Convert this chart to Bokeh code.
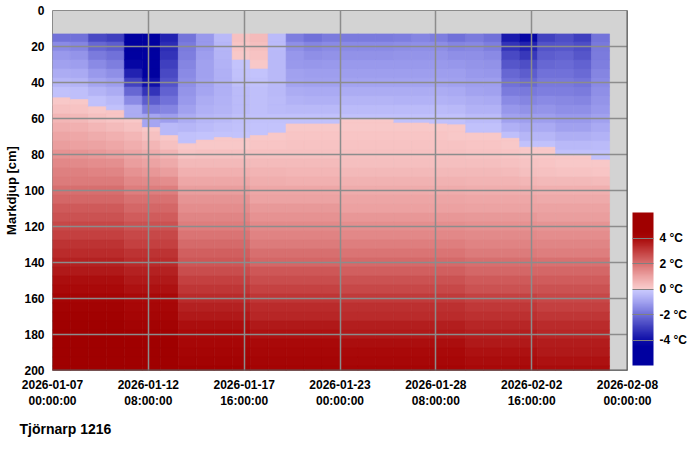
import numpy as np
from bokeh.plotting import figure
from bokeh.models import (Range1d, FixedTicker, LinearColorMapper, ColorBar, Title,
                          ColumnDataSource, Span)
from bokeh.embed import file_html
from bokeh.resources import INLINE

# ---------------- data ----------------
start = "2026-01-07T00:00"
dates = ["2026-01-07", "2026-01-08", "2026-01-09", "2026-01-10", "2026-01-11",
         "2026-01-12", "2026-01-13", "2026-01-14", "2026-01-15", "2026-01-16",
         "2026-01-17", "2026-01-18", "2026-01-19", "2026-01-20", "2026-01-21",
         "2026-01-22", "2026-01-23", "2026-01-24", "2026-01-25", "2026-01-26",
         "2026-01-27", "2026-01-28", "2026-01-29", "2026-01-30", "2026-01-31",
         "2026-02-01", "2026-02-02", "2026-02-03", "2026-02-04", "2026-02-05",
         "2026-02-06"]

# measuring depths (cm), top of the uppermost cell
depths = [15, 20, 25, 30, 35, 40, 45, 50, 55, 60, 65, 70, 75, 80, 85, 90, 95,
          100, 105, 110, 115, 120, 125, 130, 135, 140, 145, 150, 155, 160,
          165, 170, 175, 180, 185, 190, 195, 200]
top_depth = 13

# frost depth (0 degC boundary) per day, cm
frost_depth = [48.5, 49.5, 53.5, 55.5, 60, 65, 69.5, 74, 72, 70.5, 71, 69.5, 68,
               63, 63, 63, 60.5, 60.5, 60.5, 62.5, 62.5, 63, 63.5, 68, 68, 71,
               76, 76, 80.5, 80.5, 83]

# deep part of the profiles (100..200 cm), degC
deep_a = [2.0, 2.2, 2.4, 2.55, 2.75, 2.95, 3.15, 3.3, 3.5, 3.7, 3.85, 4.0, 4.2, 4.3, 4.4, 4.5, 4.6, 4.7, 4.8, 4.9, 5.0]
deep_b = [1.75, 1.95, 2.15, 2.35, 2.55, 2.75, 2.95, 3.15, 3.35, 3.5, 3.65, 3.8, 3.95, 4.05, 4.2, 4.3, 4.45, 4.55, 4.65, 4.75, 4.85]
deep_c = [1.1, 1.25, 1.4, 1.55, 1.7, 1.9, 2.1, 2.3, 2.5, 2.7, 2.9, 3.1, 3.3, 3.5, 3.65, 3.85, 4.0, 4.1, 4.2, 4.3, 4.4]
deep_d = [0.85, 1.0, 1.15, 1.3, 1.45, 1.6, 1.8, 2.0, 2.2, 2.45, 2.65, 2.85, 3.1, 3.3, 3.45, 3.65, 3.8, 3.95, 4.05, 4.15, 4.25]
deep_e = [0.75, 0.9, 1.05, 1.2, 1.35, 1.5, 1.7, 1.9, 2.1, 2.3, 2.55, 2.75, 3.0, 3.2, 3.35, 3.55, 3.7, 3.85, 3.95, 4.05, 4.15]
deep_f = [0.7, 0.85, 1.0, 1.15, 1.3, 1.45, 1.6, 1.8, 2.0, 2.2, 2.4, 2.6, 2.85, 3.05, 3.2, 3.4, 3.55, 3.7, 3.8, 3.9, 4.0]
deep_g = [0.65, 0.8, 0.95, 1.1, 1.25, 1.4, 1.55, 1.75, 1.95, 2.15, 2.35, 2.55, 2.75, 2.95, 3.1, 3.3, 3.45, 3.6, 3.7, 3.8, 3.9]

# upper part of the profiles (15..95 cm), degC, one list per day
p0107 = [-2.0, -1.5, -1.2, -1.0, -0.8, -0.55, -0.3, 0.1, 0.3, 0.5, 0.7, 0.9, 1.1, 1.3, 1.5, 1.65, 1.8] + deep_a
p0108 = [-2.0, -1.6, -1.3, -1.1, -0.85, -0.6, -0.35, 0.1, 0.25, 0.45, 0.65, 0.85, 1.05, 1.25, 1.45, 1.65, 1.8] + deep_a
p0109 = [-2.8, -2.2, -1.8, -1.5, -1.2, -0.9, -0.6, -0.3, 0.1, 0.3, 0.5, 0.75, 0.95, 1.15, 1.4, 1.6, 1.8] + deep_a
p0110 = [-3.0, -2.4, -2.0, -1.7, -1.4, -1.1, -0.8, -0.5, -0.25, 0.2, 0.4, 0.65, 0.85, 1.1, 1.35, 1.55, 1.8] + deep_a
p0111 = [-5.0, -4.9, -4.7, -4.3, -3.6, -2.9, -2.2, -1.5, -0.8, 0.1, 0.3, 0.5, 0.7, 0.9, 1.1, 1.3, 1.5] + deep_b
p0112 = [-5.2, -5.0, -4.9, -4.7, -4.5, -4.0, -3.2, -2.4, -1.7, -0.9, 0.1, 0.3, 0.5, 0.75, 1.0, 1.2, 1.45] + deep_b
p0113 = [-3.6, -3.4, -3.2, -3.0, -2.8, -2.6, -2.3, -2.0, -1.6, -1.1, -0.5, 0.1, 0.3, 0.55, 0.8, 1.1, 1.4] + deep_b
p0114 = [-1.9, -1.8, -1.7, -1.6, -1.5, -1.4, -1.3, -1.15, -1.0, -0.8, -0.55, -0.3, 0.1, 0.25, 0.45, 0.65, 0.85] + deep_c
p0115 = [-1.2, -1.15, -1.1, -1.05, -1.0, -0.95, -0.9, -0.8, -0.7, -0.55, -0.4, -0.2, 0.15, 0.3, 0.45, 0.65, 0.85] + deep_c
p0116 = [-0.5, -0.55, -0.6, -0.65, -0.7, -0.7, -0.7, -0.65, -0.6, -0.5, -0.35, -0.2, 0.15, 0.3, 0.45, 0.65, 0.85] + deep_c
p0117 = [0.3, 0.2, 0.1, -0.2, -0.3, -0.35, -0.4, -0.4, -0.4, -0.35, -0.3, -0.2, 0.15, 0.3, 0.45, 0.65, 0.85] + deep_c
p0118 = [0.4, 0.35, 0.25, 0.1, -0.2, -0.3, -0.35, -0.35, -0.35, -0.3, -0.2, 0.1, 0.2, 0.3, 0.4, 0.55, 0.7] + deep_d
p0119 = [-0.4, -0.45, -0.5, -0.5, -0.5, -0.5, -0.5, -0.45, -0.4, -0.3, -0.2, 0.1, 0.2, 0.3, 0.4, 0.55, 0.7] + deep_d
p0120 = [-1.7, -1.4, -1.25, -1.15, -1.05, -0.95, -0.8, -0.65, -0.5, -0.3, 0.1, 0.2, 0.25, 0.3, 0.4, 0.5, 0.65] + deep_d
p0121 = [-2.0, -1.6, -1.4, -1.25, -1.1, -1.0, -0.85, -0.7, -0.5, -0.3, 0.1, 0.2, 0.25, 0.3, 0.4, 0.5, 0.65] + deep_d
p0122 = [-1.8, -1.5, -1.35, -1.2, -1.1, -1.0, -0.85, -0.7, -0.5, -0.3, 0.1, 0.2, 0.25, 0.3, 0.4, 0.5, 0.65] + deep_d
p0123 = [-1.8, -1.5, -1.35, -1.2, -1.1, -0.95, -0.8, -0.6, -0.45, -0.25, 0.1, 0.2, 0.25, 0.3, 0.35, 0.45, 0.6] + deep_e
p0124 = [-1.8, -1.5, -1.35, -1.2, -1.1, -0.95, -0.8, -0.6, -0.45, -0.25, 0.1, 0.2, 0.25, 0.3, 0.35, 0.45, 0.6] + deep_e
p0125 = [-1.75, -1.5, -1.35, -1.2, -1.1, -0.95, -0.8, -0.6, -0.45, -0.25, 0.1, 0.2, 0.25, 0.3, 0.35, 0.45, 0.6] + deep_e
p0126 = [-1.7, -1.45, -1.3, -1.2, -1.1, -0.95, -0.8, -0.65, -0.45, -0.25, 0.1, 0.2, 0.25, 0.3, 0.35, 0.45, 0.6] + deep_e
p0127 = [-1.6, -1.4, -1.3, -1.2, -1.1, -0.95, -0.8, -0.65, -0.45, -0.25, 0.1, 0.2, 0.25, 0.3, 0.35, 0.45, 0.6] + deep_e
p0128 = [-1.7, -1.45, -1.3, -1.2, -1.1, -0.95, -0.8, -0.65, -0.45, -0.25, 0.1, 0.2, 0.25, 0.3, 0.35, 0.45, 0.6] + deep_e
p0129 = [-2.0, -1.6, -1.4, -1.25, -1.1, -1.0, -0.85, -0.7, -0.5, -0.3, 0.1, 0.15, 0.25, 0.3, 0.35, 0.45, 0.6] + deep_e
p0130 = [-1.8, -1.55, -1.4, -1.3, -1.2, -1.1, -0.95, -0.8, -0.65, -0.45, -0.25, 0.1, 0.2, 0.25, 0.35, 0.45, 0.55] + deep_f
p0131 = [-2.0, -1.7, -1.5, -1.35, -1.25, -1.1, -1.0, -0.85, -0.65, -0.45, -0.25, 0.1, 0.2, 0.25, 0.35, 0.45, 0.55] + deep_f
p0201 = [-3.8, -3.2, -2.8, -2.5, -2.2, -2.0, -1.75, -1.5, -1.25, -1.0, -0.7, -0.35, 0.1, 0.2, 0.3, 0.4, 0.55] + deep_f
p0202 = [-4.3, -3.6, -3.1, -2.7, -2.4, -2.1, -1.85, -1.6, -1.35, -1.1, -0.85, -0.55, -0.25, 0.1, 0.25, 0.35, 0.5] + deep_f
p0203 = [-2.9, -2.6, -2.4, -2.2, -2.0, -1.85, -1.7, -1.5, -1.3, -1.1, -0.85, -0.55, -0.25, 0.1, 0.2, 0.3, 0.45] + deep_g
p0204 = [-2.7, -2.5, -2.3, -2.15, -2.0, -1.85, -1.7, -1.55, -1.4, -1.2, -1.0, -0.75, -0.5, -0.25, 0.1, 0.25, 0.45] + deep_g
p0205 = [-3.0, -2.7, -2.5, -2.3, -2.1, -1.95, -1.8, -1.6, -1.4, -1.2, -1.0, -0.75, -0.5, -0.25, 0.1, 0.25, 0.45] + deep_g
p0206 = [-1.9, -1.85, -1.8, -1.7, -1.6, -1.5, -1.4, -1.3, -1.15, -1.0, -0.85, -0.65, -0.45, -0.25, 0.1, 0.2, 0.4] + deep_g

profiles = [p0107, p0108, p0109, p0110, p0111, p0112, p0113, p0114, p0115, p0116,
            p0117, p0118, p0119, p0120, p0121, p0122, p0123, p0124, p0125, p0126,
            p0127, p0128, p0129, p0130, p0131, p0201, p0202, p0203, p0204, p0205,
            p0206]

tick_times = ["2026-01-07T00:00", "2026-01-12T08:00", "2026-01-17T16:00",
              "2026-01-23T00:00", "2026-01-28T08:00", "2026-02-02T16:00",
              "2026-02-08T00:00"]
tick_labels = ["2026-01-07\n00:00:00", "2026-01-12\n08:00:00", "2026-01-17\n16:00:00",
               "2026-01-23\n00:00:00", "2026-01-28\n08:00:00", "2026-02-02\n16:00:00",
               "2026-02-08\n00:00:00"]
depth_ticks = [0, 20, 40, 60, 80, 100, 120, 140, 160, 180, 200]
cbar_ticks = [-4, -2, 0, 2, 4]
cbar_labels = ["-4 °C", "-2 °C", "0 °C", "2 °C", "4 °C"]
station = "Tjörnarp 1216"
y_title = "Markdjup [cm]"

# ---------------- colours (style) ----------------
pos_stops = [(0, (250, 205, 205)), (1, (236, 162, 162)), (2, (216, 112, 112)),
             (3, (194, 60, 60)), (4, (168, 8, 8)), (4.5, (160, 0, 0)), (6, (160, 0, 0))]
neg_stops = [(-6, (0, 0, 160)), (-4.5, (0, 0, 160)), (-4, (14, 14, 168)),
             (-3, (62, 62, 190)), (-2, (112, 112, 216)), (-1, (162, 162, 240)),
             (0, (205, 205, 255))]


def stop_color(stops, t):
    xs = [s[0] for s in stops]
    rgb = [int(round(np.interp(t, xs, [s[1][k] for s in stops]))) for k in range(3)]
    return "#%02x%02x%02x" % tuple(rgb)


nbins = 240
palette = []
for k in range(nbins):
    tc = -6 + (k + 0.5) * 12.0 / nbins
    palette.append(stop_color(neg_stops if tc < 0 else pos_stops, tc))
mapper = LinearColorMapper(palette=palette, low=-6, high=6)

# ---------------- cells ----------------
t0 = np.datetime64(start)


def hours(s):
    return float((np.datetime64(s) - t0) / np.timedelta64(1, "h"))


edges = [top_depth] + [(depths[i] + depths[i + 1]) / 2 for i in range(len(depths) - 1)] + [depths[-1]]
L, R, T, B, V = [], [], [], [], []
for j, d in enumerate(dates):
    x0 = hours(d)
    x1 = x0 + 24
    F = frost_depth[j]
    prof = profiles[j]
    for i in range(len(depths)):
        a, b = edges[i], edges[i + 1]
        if a < F < b:
            up = prof[i] if depths[i] < F else prof[i - 1]
            lo = prof[i] if depths[i] >= F else prof[i + 1]
            parts = [(a, F, up), (F, b, lo)]
        else:
            parts = [(a, b, prof[i])]
        for (ta, tb, v) in parts:
            L.append(x0); R.append(x1); T.append(ta); B.append(tb); V.append(v)

src = ColumnDataSource(dict(left=L, right=R, top=T, bottom=B, t=V))

FONT = "Liberation Sans"
p = figure(width=700, height=463, output_backend="svg", toolbar_location=None,
           x_range=Range1d(hours(tick_times[0]), hours(tick_times[-1])),
           y_range=Range1d(200, 0),
           min_border_left=52, min_border_right=73, min_border_top=10,
           min_border_bottom=93)
p.background_fill_color = "#d3d3d3"
p.border_fill_color = "white"
p.outline_line_color = "#8a8a8a"
p.outline_line_width = 1

p.quad(left="left", right="right", top="top", bottom="bottom", source=src,
       fill_color={"field": "t", "transform": mapper},
       line_color={"field": "t", "transform": mapper}, line_width=0.6)

# axes
p.xaxis.ticker = FixedTicker(ticks=[hours(t) for t in tick_times])
p.xaxis.major_label_overrides = {hours(t): lab for t, lab in zip(tick_times, tick_labels)}
p.yaxis.ticker = FixedTicker(ticks=depth_ticks)
for ax in (p.xaxis[0], p.yaxis[0]):
    ax.axis_line_color = None
    ax.major_tick_line_color = None
    ax.minor_tick_line_color = None
    ax.major_tick_out = 0
    ax.major_tick_in = 0
    ax.major_label_text_font = FONT
    ax.major_label_text_font_style = "bold"
    ax.major_label_text_font_size = "12px"
    ax.major_label_text_color = "black"
p.xaxis.major_label_standoff = 7
p.yaxis.major_label_standoff = 8
p.yaxis.axis_label = y_title
p.yaxis.axis_label_text_font = FONT
p.yaxis.axis_label_text_font_style = "bold"
p.yaxis.axis_label_text_font_size = "13px"
p.yaxis.axis_label_text_color = "black"
p.yaxis.axis_label_standoff = 2

p.grid.grid_line_color = "#8c8c8c"
p.grid.grid_line_width = 1.5
p.grid.level = "overlay"

p.add_layout(Span(location=hours(tick_times[-1]), dimension="height",
                  line_color="#5a5a5a", line_width=2, level="overlay"))
p.add_layout(Span(location=200, dimension="width",
                  line_color="#5a5a5a", line_width=2, level="overlay"))

cbar = ColorBar(color_mapper=mapper, ticker=FixedTicker(ticks=cbar_ticks),
                major_label_overrides={t: lab for t, lab in zip(cbar_ticks, cbar_labels)},
                width=21, height=153, location="bottom_left", padding=5, margin=0,
                major_label_text_font=FONT, major_label_text_font_style="bold",
                major_label_text_font_size="12px", major_label_text_color="black",
                major_tick_line_color="#808080", major_tick_in=21, major_tick_out=0,
                minor_tick_line_color=None, bar_line_color=None,
                border_line_color=None, background_fill_color=None, label_standoff=6)
p.add_layout(cbar, "right")

p.add_layout(Title(text=station, align="left", offset=-33, standoff=14,
                   text_font=FONT, text_font_style="bold", text_font_size="14px",
                   text_color="black"), "below")

open("out.html", "w").write(file_html(p, INLINE))
